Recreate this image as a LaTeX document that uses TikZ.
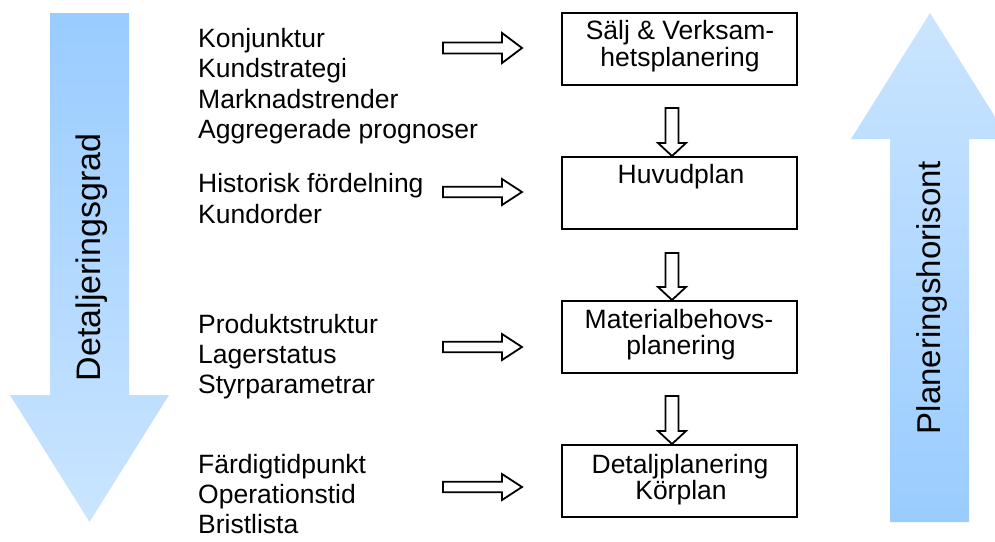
\documentclass[tikz,border=0pt]{standalone}
\usepackage{fontspec}
\setmainfont{Liberation Sans}
\usetikzlibrary{calc}

\definecolor{arrowdark}{HTML}{99CCFF}
\definecolor{arrowlight}{HTML}{CAE5FF}

% Hollow block arrow from #1 to the tip #2:
% #3 half shaft width, #4 half head width, #5 head length
\newcommand\blockarrow[5]{%
  \coordinate (#1-hb) at ($(#2)!#5!(#1)$);
  \draw[blockline]
    ($(#1)!#3!90:(#2)$) -- ($(#1-hb)!#3!90:(#2)$) -- ($(#1-hb)!#4!90:(#2)$)
    -- (#2)
    -- ($(#1-hb)!#4!-90:(#2)$) -- ($(#1-hb)!#3!-90:(#2)$) -- ($(#1)!#3!-90:(#2)$)
    -- cycle;
}

\tikzset{
  lbl/.style={anchor=base west, inner sep=0pt, font=\fontsize{26.5}{30}\selectfont},
  boxtxt/.style={anchor=base, inner sep=0pt, font=\fontsize{26.5}{30}\selectfont},
  stagebox/.style={draw, line width=2pt, minimum width=235pt, minimum height=72pt, inner sep=0pt},
  blockline/.style={line width=1.8pt, draw=black, fill=white, line join=miter},
  sidetxt/.style={anchor=base, rotate=90, inner sep=0pt},
}

\begin{document}
\begin{tikzpicture}[x=1pt, y=-1pt]
\useasboundingbox (0,0) rectangle (995,541);
\clip (0,0) rectangle (995,541);

% large shaded side arrows
\shade[top color=arrowdark, bottom color=arrowlight]
  (50,13) -- (129,13) -- (129,395) -- (169,395) -- (89.5,522) -- (10,395) -- (50,395) -- cycle;
\shade[top color=arrowlight, bottom color=arrowdark]
  (930,13) -- (1009,139) -- (969,139) -- (969,522) -- (890,522) -- (890,139) -- (851,139) -- cycle;

\node[sidetxt, font=\fontsize{34}{40}\selectfont] (detalj) at (100,257.5) {Detaljeringsgrad};
\node[sidetxt, font=\fontsize{33}{40}\selectfont] (horisont) at (940,297.5) {Planeringshorisont};

% input lists
\node[lbl] (k1) at (198,47) {Konjunktur};
\node[lbl] (k2) at (198,77) {Kundstrategi};
\node[lbl] (k3) at (198,108) {Marknadstrender};
\node[lbl] (k4) at (198,138) {Aggregerade prognoser};

\node[lbl] (h1) at (198,192) {Historisk fördelning};
\node[lbl] (h2) at (198,223) {Kundorder};

\node[lbl] (p1) at (198,333) {Produktstruktur};
\node[lbl] (p2) at (198,363) {Lagerstatus};
\node[lbl] (p3) at (198,393) {Styrparametrar};

\node[lbl] (f1) at (198,473) {Färdigtidpunkt};
\node[lbl] (f2) at (198,503) {Operationstid};
\node[lbl] (f3) at (198,533) {Bristlista};

% planning stages
\node[stagebox] (b1) at (679.5,49) {};
\node[stagebox] (b2) at (679.5,193) {};
\node[stagebox] (b3) at (679.5,337) {};
\node[stagebox] (b4) at (679.5,481) {};

\node[boxtxt] (b1a) at (680,39) {Sälj \& Verksam-};
\node[boxtxt] (b1b) at (680,66) {hetsplanering};
\node[boxtxt] (b2a) at (681,183) {Huvudplan};
\node[boxtxt] (b3a) at (679,328) {Materialbehovs-};
\node[boxtxt] (b3b) at (681,354) {planering};
\node[boxtxt] (b4a) at (680,473) {Detaljplanering};
\node[boxtxt] (b4b) at (681,499) {Körplan};

% input arrows
\coordinate (ia1) at (443,48);  \coordinate (ia1t) at (522,48);
\coordinate (ia2) at (443,192); \coordinate (ia2t) at (522,192);
\coordinate (ia3) at (443,347); \coordinate (ia3t) at (522,347);
\coordinate (ia4) at (443,487); \coordinate (ia4t) at (522,487);
\blockarrow{ia1}{ia1t}{5.5pt}{15pt}{20pt}
\blockarrow{ia2}{ia2t}{5.2pt}{13pt}{20pt}
\blockarrow{ia3}{ia3t}{5.2pt}{13pt}{20pt}
\blockarrow{ia4}{ia4t}{5.2pt}{13pt}{20pt}

% arrows between stages
\coordinate (sa1) at (672,108); \coordinate (sa1t) at (sa1 |- b2.north);
\coordinate (sa2) at (672,253); \coordinate (sa2t) at (sa2 |- b3.north);
\coordinate (sa3) at (672,396); \coordinate (sa3t) at (sa3 |- b4.north);
\blockarrow{sa1}{sa1t}{6.5pt}{14pt}{13pt}
\blockarrow{sa2}{sa2t}{6.5pt}{14pt}{13pt}
\blockarrow{sa3}{sa3t}{6.5pt}{14pt}{13pt}
\end{tikzpicture}
\end{document}
